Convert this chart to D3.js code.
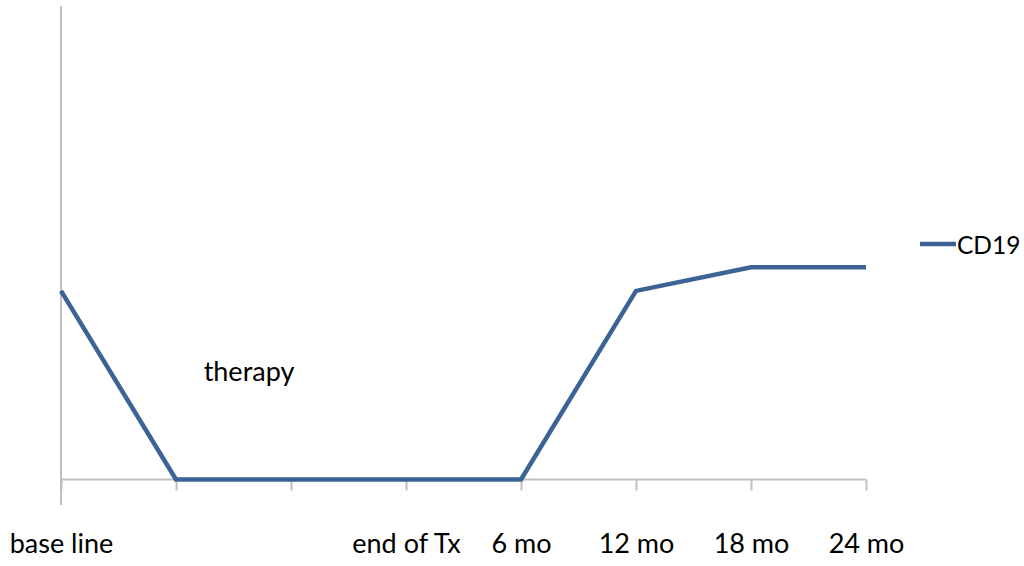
<!DOCTYPE html>
<html><head><meta charset="utf-8">
<script src="https://cdn.jsdelivr.net/npm/d3@7"></script>
<style>body{margin:0;background:#fff}svg{display:block}</style>
</head><body>
<svg id="c" width="1024" height="566"></svg>
<script>
const categories = ["base line", "", "", "end of Tx", "6 mo", "12 mo", "18 mo", "24 mo"];
const cd19 = [8, 0, 0, 0, 0, 8, 9, 9];
const seriesName = "CD19";
const yDomain = [0, 20];

const svg = d3.select("#c");
const font = "Lato, 'Open Sans', sans-serif";
const fs = 27;
const x = d3.scalePoint().domain(d3.range(categories.length)).range([61, 866]);
const y = d3.scaleLinear().domain(yDomain).range([479.5, 8]);

// y axis line
svg.append("line").attr("x1", 61).attr("x2", 61).attr("y1", 6).attr("y2", 505)
  .attr("stroke", "#BFBFBF").attr("stroke-width", 2);

// x axis
const xAxis = d3.axisBottom(x).tickSize(11).tickFormat(i => categories[i]);
const gx = svg.append("g").attr("transform", `translate(0,${y(0)})`).call(xAxis);
gx.select(".domain").attr("d", `M61,0H${x(categories.length-1)}`).attr("stroke", "#BFBFBF").attr("stroke-width", 2);
gx.selectAll(".tick line").attr("stroke", "#BFBFBF").attr("stroke-width", 2);
gx.selectAll(".tick text").attr("font-family", font).attr("font-size", fs).attr("fill", "#000")
  .attr("y", 73.5).attr("dy", 0);

// line
const line = d3.line().x((d, i) => x(i)).y(d => y(d));
svg.append("path").datum(cd19).attr("d", line).attr("fill", "none")
  .attr("stroke", "#3C6396").attr("stroke-width", 4.5).attr("stroke-linejoin", "miter");

// annotation
svg.append("text").attr("x", 249).attr("y", 381).attr("text-anchor", "middle")
  .attr("font-family", font).attr("font-size", fs).text("therapy");

// legend
svg.append("line").attr("x1", 920).attr("x2", 956).attr("y1", 244).attr("y2", 244)
  .attr("stroke", "#3C6396").attr("stroke-width", 4.5);
svg.append("text").attr("x", 957).attr("y", 254).attr("font-family", font).attr("font-size", 24.5).text(seriesName);
</script>
</body></html>
